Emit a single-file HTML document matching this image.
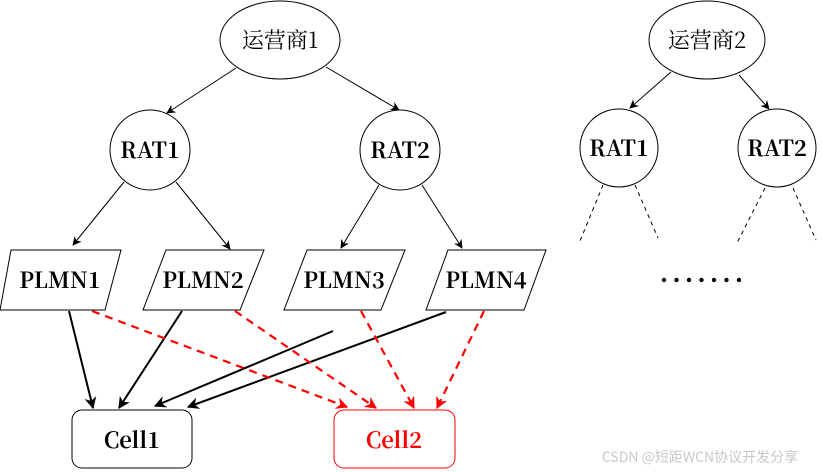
<!DOCTYPE html>
<html><head><meta charset="utf-8"><style>
html,body{margin:0;padding:0;background:#fff;width:822px;height:472px;overflow:hidden}
</style></head><body>
<svg width="822" height="472" viewBox="0 0 822 472" xmlns="http://www.w3.org/2000/svg" font-family="'Noto Serif CJK SC','DejaVu Serif',serif">
<defs>
<marker id="a" viewBox="0 0 10 10" refX="9" refY="5" markerWidth="9" markerHeight="9" markerUnits="userSpaceOnUse" orient="auto"><path d="M0,0 L10,5 L0,10 L3,5 z" fill="#000"/></marker>
<marker id="b" viewBox="0 0 10 10" refX="9" refY="5" markerWidth="12" markerHeight="12" markerUnits="userSpaceOnUse" orient="auto"><path d="M0,0 L10,5 L0,10 L3,5 z" fill="#000"/></marker>
<marker id="r" viewBox="0 0 10 10" refX="9" refY="5" markerWidth="12" markerHeight="12" markerUnits="userSpaceOnUse" orient="auto"><path d="M0,0 L10,5 L0,10 L3,5 z" fill="#f00"/></marker>
</defs>
<g fill="#fff" stroke="#000" stroke-width="1">
<ellipse cx="280" cy="40" rx="60" ry="39"/>
<circle cx="150" cy="150" r="40"/>
<circle cx="400" cy="150" r="40"/>
<ellipse cx="707" cy="40" rx="58" ry="39"/>
<circle cx="619" cy="148" r="39"/>
<circle cx="777" cy="148" r="39"/>
<polygon points="11,250 121,250 105,310 0,310"/>
<polygon points="166,250 264,250 240,310 143,310"/>
<polygon points="307,250 405,250 381,310 284,310"/>
<polygon points="448,250 546,250 524,310 426,310"/>
<rect x="72" y="410" width="120" height="58" rx="10"/>
<rect x="334" y="410" width="121" height="58" rx="10" stroke="#f00"/>
</g>
<g stroke="#000" stroke-width="1" marker-end="url(#a)">
<line x1="236" y1="68" x2="167" y2="113"/>
<line x1="326" y1="67" x2="399" y2="110"/>
<line x1="124" y1="182" x2="73" y2="245"/>
<line x1="176" y1="182" x2="230" y2="249"/>
<line x1="379" y1="185" x2="341" y2="248"/>
<line x1="422" y1="185" x2="462" y2="248"/>
<line x1="671" y1="72" x2="630" y2="108"/>
<line x1="739" y1="75" x2="769" y2="109"/>
</g>
<g stroke="#000" stroke-width="1" stroke-dasharray="4,4">
<line x1="603" y1="185" x2="580" y2="241"/>
<line x1="635" y1="185" x2="658" y2="238"/>
<line x1="765" y1="188" x2="737" y2="243"/>
<line x1="793" y1="188" x2="816" y2="240"/>
</g>
<g fill="#000">
<circle cx="664" cy="280" r="2.2"/><circle cx="676.5" cy="280" r="2.2"/><circle cx="689" cy="280" r="2.2"/><circle cx="701.5" cy="280" r="2.2"/><circle cx="714" cy="280" r="2.2"/><circle cx="726.5" cy="280" r="2.2"/><circle cx="739" cy="280" r="2.2"/>
</g>
<g stroke="#000" stroke-width="2" marker-end="url(#b)">
<line x1="69" y1="311" x2="93" y2="408"/>
<line x1="182" y1="311" x2="119" y2="408"/>
<line x1="333" y1="331" x2="155" y2="406"/>
<line x1="446" y1="312" x2="188" y2="407"/>
</g>
<g stroke="#f00" stroke-width="2.2" stroke-dasharray="8,6" marker-end="url(#r)">
<line x1="92" y1="311" x2="347" y2="407"/>
<line x1="235" y1="311" x2="376" y2="408"/>
<line x1="361" y1="311" x2="414" y2="408"/>
<line x1="484" y1="311" x2="437" y2="408"/>
</g>
<g font-size="22" text-anchor="middle">
<text x="280" y="48">运营商1</text>
<text x="707" y="48">运营商2</text>
</g>
<g font-size="22" text-anchor="middle" font-weight="bold">
<text x="150" y="158">RAT1</text>
<text x="400" y="158">RAT2</text>
<text x="619" y="156">RAT1</text>
<text x="777" y="156">RAT2</text>
<text x="60" y="288">PLMN1</text>
<text x="203" y="288">PLMN2</text>
<text x="344" y="288">PLMN3</text>
<text x="486" y="288">PLMN4</text>
<text x="132" y="448">Cell1</text>
<text x="394" y="448" fill="#f00">Cell2</text>
</g>
<text x="700" y="462" font-size="14" text-anchor="middle" fill="#c8c8c8" font-family="'Noto Sans CJK SC',sans-serif">CSDN @短距WCN协议开发分享</text>
</svg>
</body></html>
